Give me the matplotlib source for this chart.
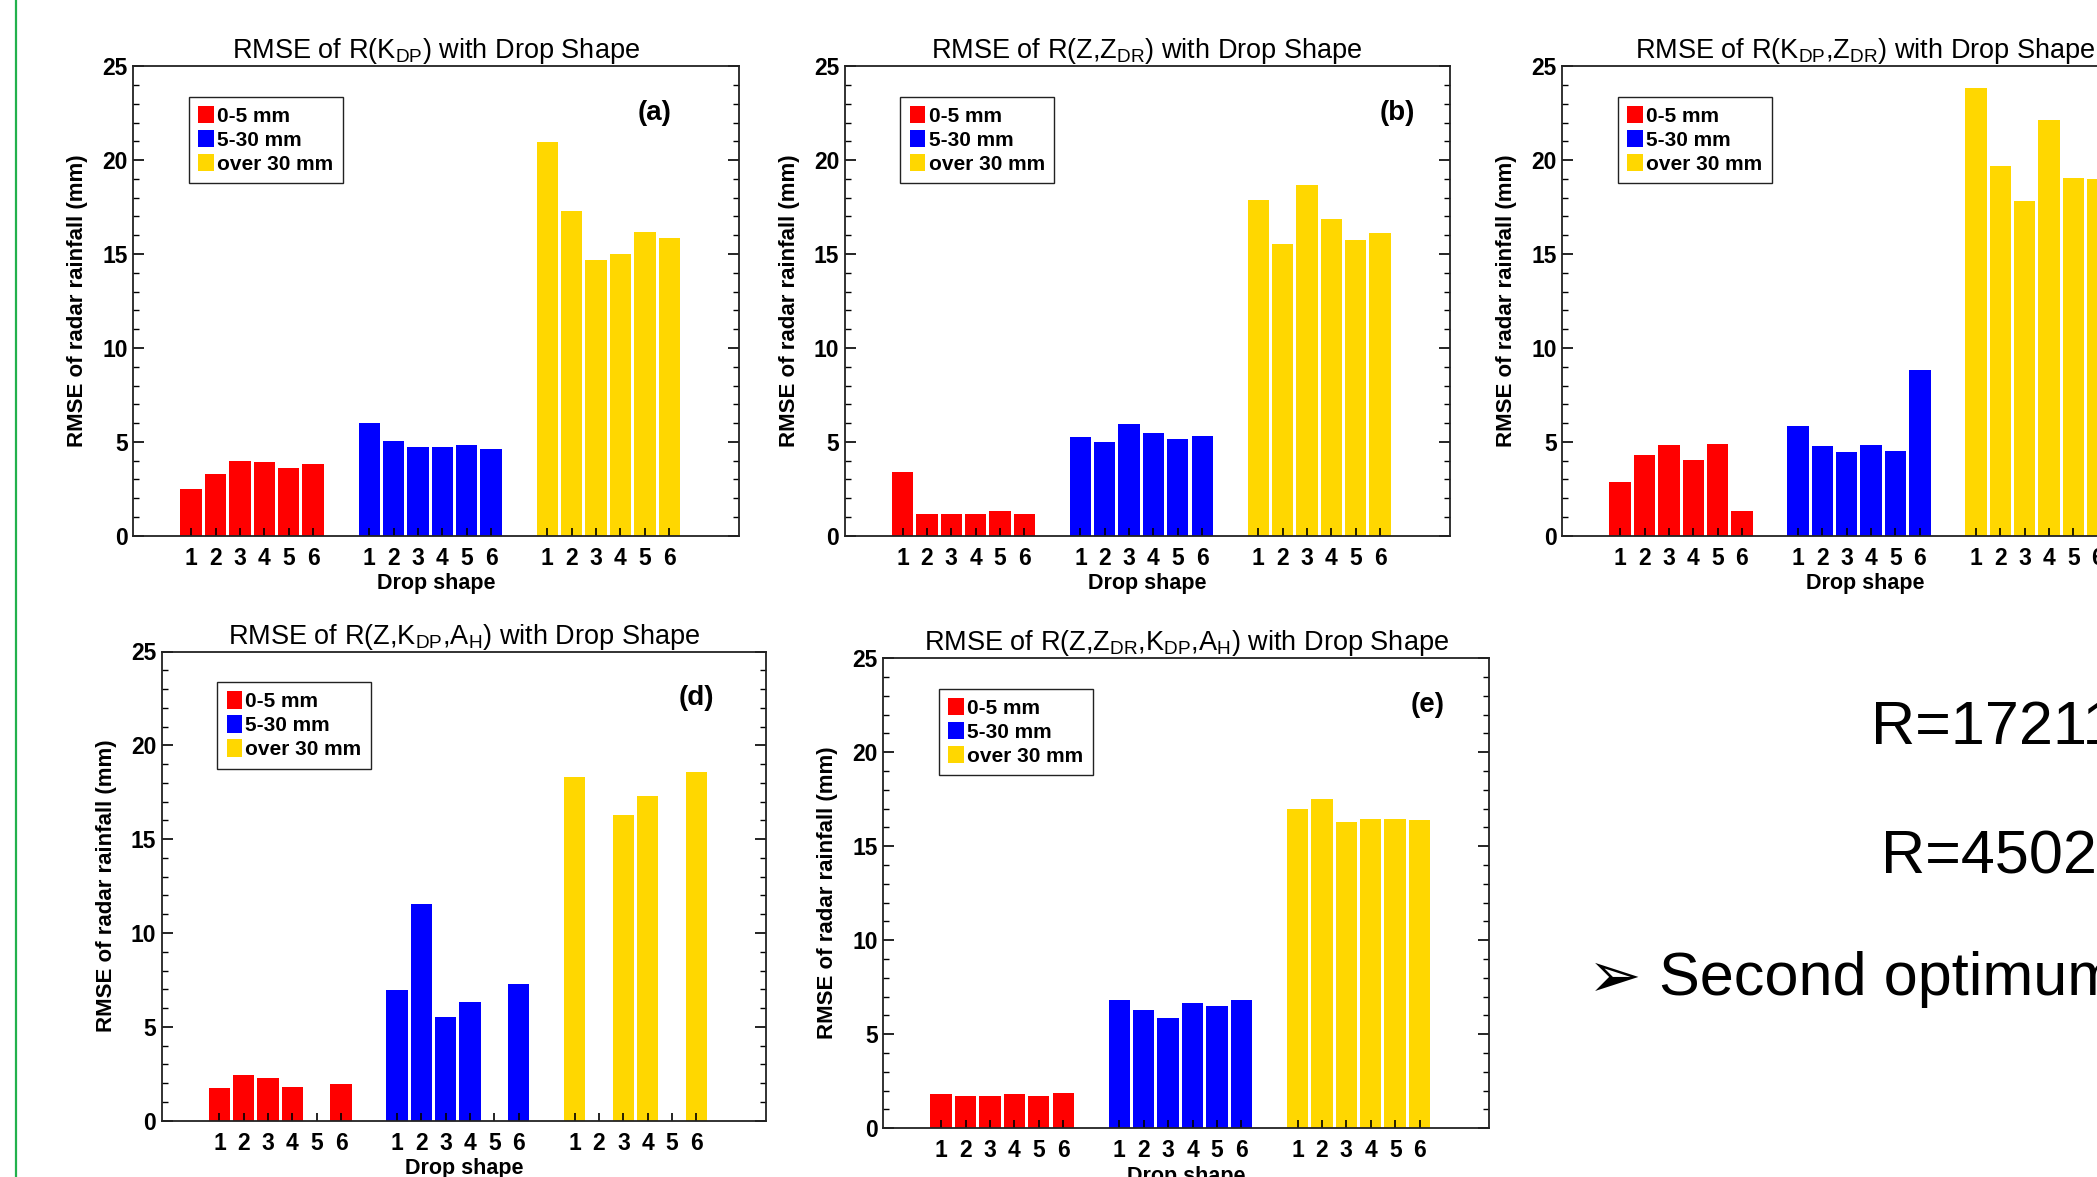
import numpy as np
import matplotlib
matplotlib.use('Agg')
import matplotlib.pyplot as plt
from matplotlib.ticker import MultipleLocator

# RMSE values (mm), six drop shapes per rainfall class
names = ['0-5 mm', '5-30 mm', 'over 30 mm']
colors = ['#FF0000', '#0000FF', '#FFD700']
shapes = ['1', '2', '3', '4', '5', '6']

kdp_red = [2.51, 3.28, 3.97, 3.91, 3.59, 3.83]
kdp_blue = [6.01, 5.07, 4.71, 4.71, 4.85, 4.60]
kdp_yellow = [20.95, 17.28, 14.69, 15.00, 16.18, 15.85]

zzdr_red = [3.42, 1.16, 1.16, 1.16, 1.32, 1.16]
zzdr_blue = [5.24, 4.99, 5.93, 5.46, 5.15, 5.32]
zzdr_yellow = [17.89, 15.55, 18.68, 16.87, 15.77, 16.10]

kdpzdr_red = [2.89, 4.30, 4.85, 4.05, 4.91, 1.32]
kdpzdr_blue = [5.87, 4.77, 4.46, 4.85, 4.52, 8.84]
kdpzdr_yellow = [23.82, 19.70, 17.83, 22.11, 19.05, 19.0]  # last one is cut off

zkdpah_red = [1.73, 2.41, 2.25, 1.80, None, 1.94]
zkdpah_blue = [6.94, 11.53, 5.55, 6.31, None, 7.31]
zkdpah_yellow = [18.31, None, 16.29, 17.31, None, 18.57]

all_red = [1.80, 1.72, 1.72, 1.80, 1.72, 1.88]
all_blue = [6.79, 6.26, 5.85, 6.64, 6.48, 6.79]
all_yellow = [16.99, 17.52, 16.29, 16.45, 16.45, 16.37]

W, H = 2097, 1177
FONT = ['Liberation Sans', 'DejaVu Sans']
plt.rcParams['font.family'] = FONT
plt.rcParams['mathtext.default'] = 'regular'

fig = plt.figure(figsize=(W / 100, H / 100), dpi=100)
fig.patch.set_facecolor('white')


def panel(box, title, series, tag, tag_x):
    l, t, r, b = box
    ax = fig.add_axes([l / W, 1 - b / H, (r - l) / W, (b - t) / H])
    ticks = []
    for g, vals in enumerate(series):
        x = g * 7.3 + np.arange(6)
        ticks.extend(x)
        v = np.array([np.nan if a is None else a for a in vals], dtype=float)
        ok = ~np.isnan(v)
        ax.bar(x[ok], v[ok], width=0.875, color=colors[g], label=names[g])
    ax.set_xlim(-2.37, 22.46)
    ax.set_ylim(0, 25)
    ax.set_xticks(ticks)
    ax.set_xticklabels(shapes * 3, fontsize=16.5, fontweight='bold')
    ax.set_yticks(range(0, 26, 5))
    ax.set_yticklabels([str(v) for v in range(0, 26, 5)], fontsize=16.5, fontweight='bold')
    ax.yaxis.set_minor_locator(MultipleLocator(1))
    ax.tick_params(axis='y', which='major', direction='in', left=True, right=True,
                   length=8, width=1.2, pad=4)
    ax.tick_params(axis='y', which='minor', direction='in', left=True, right=True,
                   length=4, width=1.0)
    ax.tick_params(axis='x', direction='in', length=5.5, width=1.2, pad=8)
    for s in ax.spines.values():
        s.set_linewidth(1.3)
        s.set_color('#222222')
    ax.set_title(title, fontsize=19.5, pad=5)
    ax.text(-55.5 / (r - l), 0.5, 'RMSE of radar rainfall (mm)', rotation=90,
            ha='center', va='center', fontsize=16, fontweight='bold',
            transform=ax.transAxes)
    ax.text(0.5, -0.1026, 'Drop shape', ha='center', va='center', fontsize=15.5,
            fontweight='bold', transform=ax.transAxes)
    ax.text(tag_x, 0.90, tag, ha='center', va='center', fontsize=20,
            fontweight='bold', transform=ax.transAxes)
    leg = ax.legend(loc='upper left', bbox_to_anchor=(0.092, 0.935), borderaxespad=0,
                    fancybox=False, edgecolor='#222222', framealpha=1,
                    prop={'family': FONT, 'weight': 'bold', 'size': 15},
                    handlelength=0.75, handleheight=0.9, handletextpad=0.15,
                    labelspacing=0.2, borderpad=0.45)
    leg.get_frame().set_linewidth(1.0)
    return ax


panel((133.3, 66.2, 739.0, 535.8), r'RMSE of R(K$_{DP}$) with Drop Shape',
      [kdp_red, kdp_blue, kdp_yellow], '(a)', 0.86)
panel((844.8, 66.2, 1449.7, 535.8), r'RMSE of R(Z,Z$_{DR}$) with Drop Shape',
      [zzdr_red, zzdr_blue, zzdr_yellow], '(b)', 0.914)
panel((1562.4, 66.2, 2167.4, 535.8), r'RMSE of R(K$_{DP}$,Z$_{DR}$) with Drop Shape',
      [kdpzdr_red, kdpzdr_blue, kdpzdr_yellow], '(c)', 0.93)
panel((161.7, 651.5, 766.0, 1120.7), r'RMSE of R(Z,K$_{DP}$,A$_{H}$) with Drop Shape',
      [zkdpah_red, zkdpah_blue, zkdpah_yellow], '(d)', 0.885)
panel((883.3, 658.1, 1489.4, 1128.1), r'RMSE of R(Z,Z$_{DR}$,K$_{DP}$,A$_{H}$) with Drop Shape',
      [all_red, all_blue, all_yellow], '(e)', 0.898)

# slide text on the right (cut off by the screenshot)
fig.text(1871 / W, 1 - 729 / H, 'R=17211', fontsize=44, va='center')
fig.text(1881 / W, 1 - 858 / H, 'R=45021', fontsize=44, va='center')
fig.text(1588 / W, 1 - 979 / H, '\u27a2', fontsize=46, family=['DejaVu Sans'], va='center')
fig.text(1659 / W, 1 - 979 / H, 'Second optimum', fontsize=44, va='center')

# green slide border on the left
fig.add_artist(plt.Line2D([16 / W, 16 / W], [0, 1], color='#22B14C', lw=1.6))

fig.savefig('out.png', dpi=100)
